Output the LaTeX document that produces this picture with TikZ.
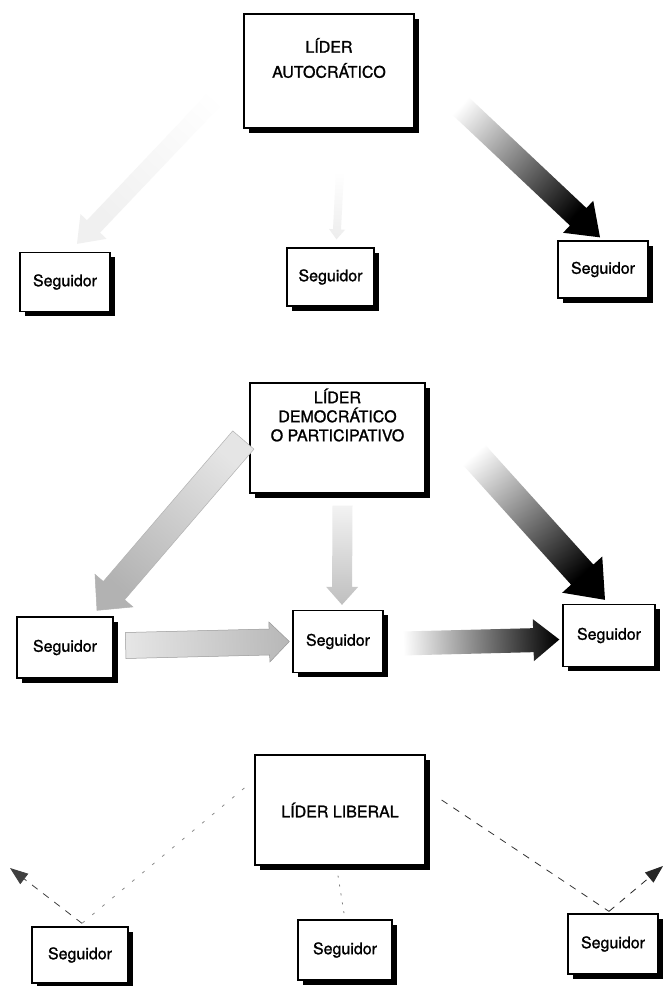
\documentclass[tikz,border=0pt]{standalone}
\usepackage{fontspec}
\setmainfont{TeX Gyre Heros}[FakeBold=1.2]
\usetikzlibrary{calc,shadows,arrows.meta}

% Broad shaded arrow from #1 to #2: half shaft width #3, half head width #4,
% head length #5, shading keys #6 (top = tail end, bottom = tip end).
\newcommand{\fatarrow}[6]{%
  \pgfmathanglebetweenpoints{\pgfpointanchor{#1}{center}}{\pgfpointanchor{#2}{center}}%
  \pgfmathsetmacro\fadir{\pgfmathresult+90}%
  \path coordinate (fa-h) at ($(#2)!#5!(#1)$);
  \path[#6, shading angle=\fadir]
    ($(#1)!#3!90:(#2)$) -- ($(fa-h)!#3!-90:(#1)$) -- ($(fa-h)!#4!-90:(#1)$)
    -- (#2) -- ($(fa-h)!#4!90:(#1)$) -- ($(fa-h)!#3!90:(#1)$)
    -- ($(#1)!#3!-90:(#2)$) -- cycle;
}

\tikzset{
  boxbase/.style={draw, line width=1.3pt, fill=white,
    general shadow={fill=black, shadow xshift=4.5pt, shadow yshift=-4.5pt}},
  leadertext/.style={align=center, inner sep=0pt, font=\fontsize{16}{19}\selectfont},
  follower/.style={boxbase, font=\fontsize{16}{19}\selectfont},
  looseline/.style={line width=0.8pt, dash pattern=on 7pt off 7pt},
  loosetip/.style={-{Triangle[length=18pt,width=13pt]}},
}

\begin{document}
\begin{tikzpicture}[x=1pt,y=-1pt]
\fill[white] (0,0) rectangle (664,986);
\useasboundingbox (0,0) rectangle (664,986);

% ---------- autocratic leader ----------
\node[boxbase, minimum width=170pt, minimum height=114pt] (L1) at (329,71) {};
\node[leadertext, font=\fontsize{16}{25}\selectfont] (L1t) at ($(L1.center)+(0,-13)$) {LÍDER\\AUTOCRÁTICO};
\node[follower, minimum width=90pt, minimum height=59pt] (S11) at (65,282) {Seguidor};
\node[follower, minimum width=87pt, minimum height=58pt] (S12) at (330.5,277) {Seguidor};
\node[follower, minimum width=90pt, minimum height=57pt] (S13) at (603,269.5) {Seguidor};

\coordinate (a1La) at ($(L1.west)+(-8,6)$);
\coordinate (a1Lb) at ($(S11.north)+(12,-8)$);
\coordinate (a1Ma) at ($(L1.south)+(11,42)$);
\coordinate (a1Mb) at ($(S12.north)+(6,-8)$);
\coordinate (a1Ra) at ($(L1.east)+(30,20)$);
\coordinate (a1Rb) at ($(S13.north)+(-3,-3)$);

\fatarrow{a1La}{a1Lb}{9pt}{18pt}{24pt}{top color=white, bottom color=black!6}
\fatarrow{a1Ma}{a1Mb}{4pt}{8pt}{10pt}{top color=white, bottom color=black!7}
\fatarrow{a1Ra}{a1Rb}{12pt}{22pt}{30pt}{top color=white, middle color=black!75, bottom color=black}

% ---------- democratic / participative leader ----------
\node[boxbase, minimum width=175pt, minimum height=110pt] (L2) at (337.5,438) {};
\node[leadertext] (L2t) at ($(L2.center)+(0,-23)$) {LÍDER\\DEMOCRÁTICO\\O PARTICIPATIVO};
\node[follower, minimum width=96pt, minimum height=61pt] (S21) at (65,647.5) {Seguidor};
\node[follower, minimum width=90pt, minimum height=62pt] (S22) at (338,641.5) {Seguidor};
\node[follower, minimum width=92pt, minimum height=62pt] (S23) at (609,635.5) {Seguidor};

\coordinate (a2La) at ($(L2.west)+(-6,2)$);
\coordinate (a2Lb) at ($(S21.north)+(32,-6)$);
\coordinate (a2Ma) at ($(L2.south)+(5,12)$);
\coordinate (a2Mb) at ($(S22.north)+(4,-5)$);
\coordinate (a2Ra) at ($(L2.east)+(35,2)$);
\coordinate (a2Rb) at ($(S23.north)+(-4,-4)$);
\coordinate (a2Ha) at ($(S21.east)+(12,-2)$);
\coordinate (a2Hb) at ($(S22.west)+(-3,0)$);
\coordinate (a2Ka) at ($(S22.east)+(18,2)$);
\coordinate (a2Kb) at ($(S23.west)+(-3,4)$);

\fatarrow{a2La}{a2Lb}{14pt}{25pt}{26pt}{top color=black!10, bottom color=black!30, draw=black!30, line width=0.5pt}
\fatarrow{a2Ma}{a2Mb}{10pt}{16pt}{18pt}{top color=black!5, bottom color=black!25}
\fatarrow{a2Ra}{a2Rb}{15pt}{27pt}{34pt}{top color=white, middle color=black!75, bottom color=black}
\fatarrow{a2Ha}{a2Hb}{13pt}{20pt}{20pt}{top color=black!10, bottom color=black!28, draw=black!40, line width=0.5pt}
\fatarrow{a2Ka}{a2Kb}{12pt}{21pt}{26pt}{top color=white, middle color=black!60, bottom color=black}

% ---------- liberal leader ----------
\node[boxbase, minimum width=170pt, minimum height=110pt] (L3) at (340,810) {};
\node[leadertext] (L3t) at (L3.center) {LÍDER LIBERAL};
\node[follower, minimum width=96pt, minimum height=56pt] (S31) at (80,955) {Seguidor};
\node[follower, minimum width=94pt, minimum height=60pt] (S32) at (345,950) {Seguidor};
\node[follower, minimum width=90pt, minimum height=60pt] (S33) at (613,944) {Seguidor};

\coordinate (b1a) at ($(L3.west)+(-10,-22)$);
\coordinate (b1m) at ($(S31.north)+(2,-3)$);
\coordinate (b1e) at (10,868);
\coordinate (b2a) at ($(L3.south)+(-2,10)$);
\coordinate (b3a) at ($(L3.east)+(16,-10)$);
\coordinate (b3m) at ($(S33.north)+(-4,-2)$);
\coordinate (b3e) at (663,866);

\draw[looseline, black!45, dash pattern=on 3pt off 10pt] (b1a) -- (b1m);
\draw[looseline, black!75, loosetip] (b1m) -- (b1e);
\draw[looseline, black!50, dash pattern=on 2pt off 7pt] (b2a) -- (S32.north);
\draw[looseline, black!80] (b3a) -- (b3m);
\draw[looseline, black!85, loosetip] (b3m) -- (b3e);
\end{tikzpicture}
\end{document}
